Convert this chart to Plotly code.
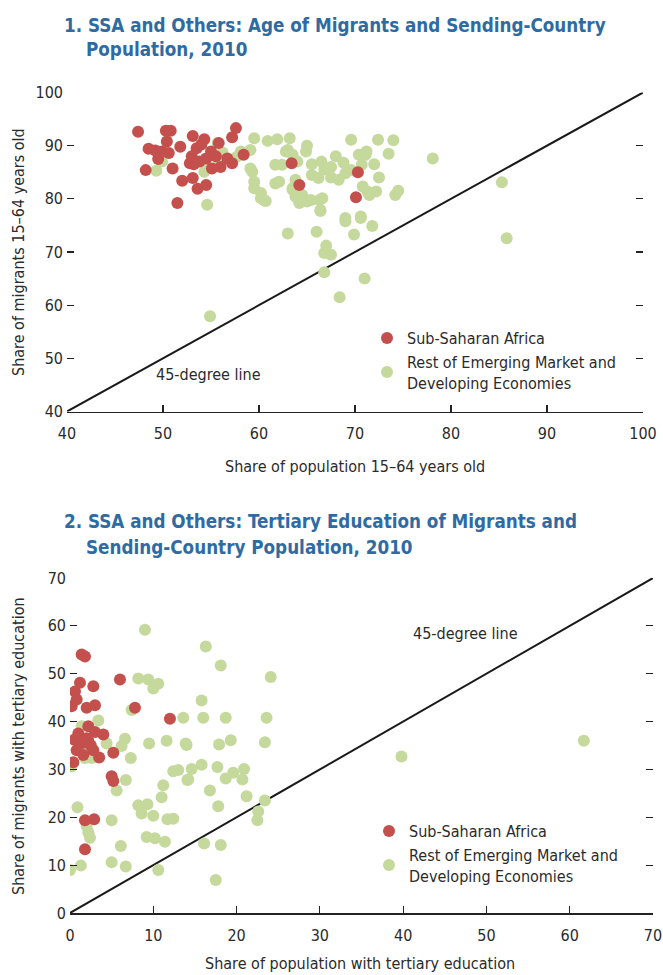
import plotly.graph_objects as go

# ---------------- Panel 1 data: age 15-64 ----------------
ssa_age_pop = [47.4, 50.3, 50.8, 48.5, 49.2, 50.4, 49.9, 50.6, 48.2, 51.0, 52.0, 51.5, 53.1, 53.6,
               54.5, 53.1, 54.3, 53.0, 53.5, 54.0, 54.5, 53.2, 53.8, 52.8, 55.0, 55.5, 55.8, 56.7,
               57.2, 57.2, 57.6, 58.4, 55.1, 63.4, 64.2, 70.3, 70.1, 49.5, 51.8, 56.0]
ssa_age_mig = [92.6, 92.8, 92.8, 89.4, 89.1, 90.8, 88.9, 88.6, 85.4, 85.7, 83.4, 79.2, 83.9, 81.9,
               82.6, 91.8, 91.2, 88.0, 89.5, 90.2, 87.6, 86.5, 87.0, 86.7, 88.9, 88.0, 90.5, 87.6,
               86.7, 91.6, 93.3, 88.3, 85.7, 86.7, 82.6, 85.0, 80.3, 87.5, 89.8, 86.0]

oth_age_pop = [55.7, 56.2, 49.9, 49.3, 54.6, 54.3, 55.8, 54.6, 57.7, 58.1, 59.1, 59.5, 60.9, 61.9,
               59.1, 59.3, 59.5, 59.5, 60.2, 60.5, 61.7, 62.4, 61.7, 63.0, 63.5, 63.5, 63.8, 63.2,
               69.6, 72.4, 71.2, 64.9, 70.4, 71.1, 72.2, 71.3, 70.8, 70.7, 69.6, 66.2, 68.3, 63.8,
               63.5, 64.5, 65.4, 66.6, 66.4, 69.0, 70.6, 62.1, 62.8, 60.2, 60.7, 64.2, 65.0, 66.3,
               66.4, 69.0, 70.6, 71.8, 69.9, 63.0, 66.0, 67.0, 66.8, 67.5, 66.8, 71.0, 68.4, 54.9,
               71.5, 74.2, 78.1, 85.3, 85.8, 74.0, 74.5, 65.5, 66.5, 67.5, 68.0, 65.5, 66.8, 67.5,
               68.8, 69.0, 64.0, 65.0, 72.0, 73.5, 72.5]
oth_age_mig = [90.5, 88.7, 87.0, 85.3, 86.0, 85.1, 86.4, 78.9, 87.9, 88.9, 89.2, 91.4, 90.9, 91.2,
               85.7, 85.1, 83.2, 82.0, 81.1, 79.8, 86.4, 86.4, 82.9, 89.2, 88.3, 82.0, 80.4, 91.4,
               91.1, 91.1, 88.9, 88.9, 88.3, 88.3, 81.4, 81.4, 82.3, 86.4, 85.4, 83.9, 83.6, 83.6,
               81.7, 80.7, 79.8, 80.1, 77.9, 76.4, 76.7, 83.2, 88.9, 80.1, 79.6, 79.2, 79.5, 79.8,
               77.7, 75.8, 76.4, 74.9, 73.3, 73.5, 73.8, 71.2, 69.8, 69.5, 66.2, 65.0, 61.5, 57.9,
               80.7, 80.7, 87.6, 83.1, 72.6, 91.0, 81.5, 86.5, 87.0, 86.0, 88.0, 84.5, 85.5, 84.0,
               86.8, 84.8, 87.0, 90.0, 86.5, 88.5, 84.0]

# ---------------- Panel 2 data: tertiary education ----------------
ssa_edu_pop = [1.4, 1.8, 1.2, 2.8, 6.0, 0.6, 0.8, 0.2, 2.0, 3.0, 7.8, 12.0, 2.2, 1.0, 2.0, 3.0,
               1.5, 2.5, 0.5, 4.0, 0.8, 1.6, 2.8, 3.5, 0.4, 5.2, 5.0, 5.2, 1.8, 2.9, 1.8, 2.2]
ssa_edu_mig = [54.0, 53.6, 48.1, 47.4, 48.8, 46.3, 44.6, 43.2, 42.9, 43.4, 42.9, 40.6, 39.0, 37.5,
               36.5, 37.8, 35.5, 35.0, 36.2, 37.3, 34.0, 33.0, 34.0, 32.5, 31.5, 33.5, 28.6, 27.6,
               19.4, 19.6, 13.3, 36.0]

oth_edu_pop = [9.0, 8.2, 9.4, 10.6, 10.0, 7.4, 13.6, 3.4, 1.4, 6.6, 9.5, 11.6, 13.9, 2.0, 4.4, 6.2,
               1.8, 2.6, 0.2, 7.3, 6.7, 5.6, 12.4, 13.0, 14.2, 11.2, 11.0, 0.9, 8.2, 9.3, 8.6, 10.0,
               11.7, 12.4, 5.0, 2.0, 2.2, 2.4, 9.2, 10.2, 11.4, 6.1, 5.0, 6.7, 1.3, 0.0, 10.6, 16.3,
               18.1, 24.1, 15.8, 16.0, 18.7, 23.6, 14.0, 17.9, 19.3, 23.4, 14.6, 15.8, 14.1, 17.7,
               18.7, 19.6, 20.7, 20.9, 16.8, 21.2, 17.8, 23.4, 22.6, 22.5, 16.1, 18.1, 17.5, 39.8,
               61.7]
oth_edu_mig = [59.2, 49.0, 48.8, 47.9, 46.9, 42.4, 40.8, 40.2, 39.0, 36.4, 35.4, 36.0, 35.4, 35.0,
               35.4, 34.9, 32.4, 32.4, 30.6, 32.4, 27.8, 25.6, 29.6, 29.9, 27.9, 26.7, 24.2, 22.1,
               22.5, 22.7, 20.8, 20.3, 19.6, 19.7, 19.4, 18.2, 16.8, 15.7, 15.9, 15.6, 14.9, 14.0,
               10.6, 9.7, 9.9, 9.0, 9.0, 55.7, 51.7, 49.3, 44.4, 40.8, 40.8, 40.8, 35.1, 35.2, 36.1,
               35.7, 30.1, 31.0, 27.8, 30.5, 28.1, 29.3, 27.9, 30.1, 25.6, 24.4, 22.3, 23.5, 21.2,
               19.4, 14.5, 14.2, 6.9, 32.7, 36.0]

line1 = [40, 100]
line2 = [0, 70]

RED = "#C4504D"
GREEN = "#C5D99C"
BLUE = "#2F6BA3"
FONT = "DejaVu Sans Condensed, Liberation Sans Narrow, sans-serif"
TXT = "#2b2b2b"
SSA_NAME = "Sub-Saharan Africa"
OTH_NAME = "Rest of Emerging Market and<br>Developing Economies"

fig = go.Figure()
mk = dict(size=12, line=dict(width=0))

fig.add_trace(go.Scatter(x=line1, y=line1, mode="lines", line=dict(color="#1a1a1a", width=2),
                         showlegend=False, xaxis="x", yaxis="y", hoverinfo="skip"))
fig.add_trace(go.Scatter(x=oth_age_pop, y=oth_age_mig, mode="markers", name=OTH_NAME,
                         marker=dict(color=GREEN, **mk), xaxis="x", yaxis="y", legend="legend", legendrank=2))
fig.add_trace(go.Scatter(x=ssa_age_pop, y=ssa_age_mig, mode="markers", name=SSA_NAME,
                         marker=dict(color=RED, **mk), xaxis="x", yaxis="y", legend="legend", legendrank=1))

fig.add_trace(go.Scatter(x=line2, y=line2, mode="lines", line=dict(color="#1a1a1a", width=2),
                         showlegend=False, xaxis="x2", yaxis="y2", hoverinfo="skip"))
fig.add_trace(go.Scatter(x=oth_edu_pop, y=oth_edu_mig, mode="markers", name=OTH_NAME,
                         marker=dict(color=GREEN, **mk), xaxis="x2", yaxis="y2", legend="legend2", legendrank=2))
fig.add_trace(go.Scatter(x=ssa_edu_pop, y=ssa_edu_mig, mode="markers", name=SSA_NAME,
                         marker=dict(color=RED, **mk), xaxis="x2", yaxis="y2", legend="legend2", legendrank=1))

W, H = 663, 975
def px(v): return v / W
def py(v): return 1 - v / H

FS = 16
tickfont = dict(family=FONT, size=FS, color=TXT)
xcommon = dict(showgrid=False, zeroline=False, showline=True, linecolor="#222", linewidth=1.5,
               ticks="inside", ticklen=7, tickcolor="#222", tickwidth=1.2, dtick=10,
               tickfont=tickfont, fixedrange=True, automargin=False, ticklabelstandoff=7)
ycommon = dict(showgrid=False, zeroline=False, showline=False, ticks="inside", ticklen=7,
               tickcolor="#222", tickwidth=1.2, mirror="ticks", dtick=10, tickfont=tickfont,
               fixedrange=True, ticklabelstandoff=3, automargin=False)

fig.update_layout(
    template="none",
    width=W, height=H, margin=dict(l=0, r=0, t=0, b=0, autoexpand=False),
    paper_bgcolor="white", plot_bgcolor="white",
    font=dict(family=FONT, size=FS, color=TXT),
    xaxis=dict(domain=[px(67), px(643)], range=[40, 100], anchor="y", **xcommon),
    yaxis=dict(domain=[py(411.5), py(92.5)], range=[40, 100], anchor="x", **ycommon),
    xaxis2=dict(domain=[px(70), px(653)], range=[0, 70], anchor="y2", **xcommon),
    yaxis2=dict(domain=[py(913), py(578)], range=[0, 70], anchor="x2", **ycommon),
    legend=dict(x=px(367), y=py(321), xanchor="left", yanchor="top", bgcolor="rgba(0,0,0,0)",
                font=dict(family=FONT, size=FS, color=TXT), itemwidth=30, tracegroupgap=2),
    legend2=dict(x=px(369), y=py(814), xanchor="left", yanchor="top", bgcolor="rgba(0,0,0,0)",
                 font=dict(family=FONT, size=FS, color=TXT), itemwidth=30, tracegroupgap=2),
    showlegend=True,
    hovermode=False,
)

ann = []
def title_line(text, x, y):
    ann.append(dict(text=f"<b>{text}</b>", x=px(x), y=py(y), xref="paper", yref="paper",
                    xanchor="left", yanchor="middle", showarrow=False,
                    font=dict(family=FONT, size=18.7, color=BLUE)))

title_line("1. SSA and Others: Age of Migrants and Sending-Country", 62, 25)
title_line("Population, 2010", 84, 49)
title_line("2. SSA and Others: Tertiary Education of Migrants and", 62, 521)
title_line("Sending-Country Population, 2010", 84, 547)

def plain(text, x, y, angle=0, xanchor="center"):
    ann.append(dict(text=text, x=px(x), y=py(y), xref="paper", yref="paper", xanchor=xanchor,
                    yanchor="middle", showarrow=False, textangle=angle,
                    font=dict(family=FONT, size=FS, color=TXT)))

plain("Share of population 15–64 years old", 355, 467)
plain("Share of migrants 15–64 years old", 18, 252, angle=-90)
plain("Share of population with tertiary education", 360, 963)
plain("Share of migrants with tertiary education", 18, 746, angle=-90)

ann.append(dict(text="45-degree line", x=54.7, y=46.9, xref="x", yref="y", xanchor="center",
                yanchor="middle", showarrow=False, font=dict(family=FONT, size=FS, color=TXT)))
ann.append(dict(text="45-degree line", x=47.5, y=58.3, xref="x2", yref="y2", xanchor="center",
                yanchor="middle", showarrow=False, font=dict(family=FONT, size=FS, color=TXT)))

fig.update_layout(annotations=ann)
fig.write_html("out.html",
               config={"displayModeBar": False, "staticPlot": True},
               post_script="document.body.style.margin='0';document.body.style.padding='0';"
                           "document.body.style.overflow='hidden';")
